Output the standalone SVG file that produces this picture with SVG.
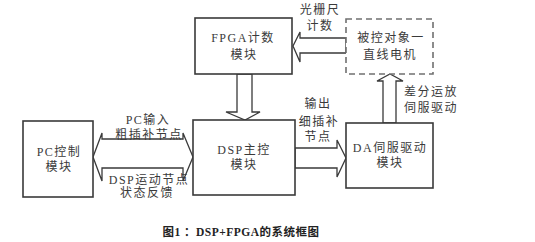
<svg xmlns="http://www.w3.org/2000/svg" width="535" height="242" viewBox="0 0 535 242">
<style>
.box{fill:#fff;stroke:#3a3a3a;stroke-width:1.6}
.dash{fill:#fff;stroke:#707070;stroke-width:1.6;stroke-dasharray:6 4}
.arr{fill:#fff;stroke:#3a3a3a;stroke-width:1.3;stroke-linejoin:miter}
text{font-family:"Liberation Serif","Noto Sans CJK SC",serif;font-size:12px;fill:#3a3a3a;text-anchor:middle;letter-spacing:1.5px}
.cap{font-size:11.5px;font-weight:bold;fill:#222;letter-spacing:0.5px}
</style>
<rect width="535" height="242" fill="#fff"/>
<g id="connectors">
<polygon class="arr" points="346,38 300,38 300,32 293,46 300,62 300,53 346,53"/>
<polygon class="arr" points="237,74 252,74 252,112 260,112 245,120 226,112 237,112"/>
<polygon class="arr" points="93,157 102,133 102,139 183,139 183,133 193,157 183,181 183,168 102,168 102,181"/>
<polygon class="arr" points="295,148 337,148 337,140 346,158 337,177 337,168 295,168"/>
<polygon class="arr" points="383,123 383,81 377,81 390,74 403,81 396,81 396,123"/>
<text x="320" y="14">光栅尺</text>
<text x="320" y="30">计数</text>
<text x="148" y="124">PC输入</text>
<text x="149" y="139">粗插补节点</text>
<text x="149" y="184">DSP运动节点</text>
<text x="147" y="197">状态反馈</text>
<text x="318" y="108">输出</text>
<text x="319" y="126">细插补</text>
<text x="318" y="141">节点</text>
<text x="431" y="96">差分运放</text>
<text x="431" y="112">伺服驱动</text>
</g>
<g id="fpga">
<rect class="box" x="195" y="18" width="97" height="56"/>
<text x="243" y="42">FPGA计数</text>
<text x="244" y="59">模块</text>
</g>
<g id="motor">
<rect class="dash" x="346" y="19" width="87" height="55"/>
<text x="391" y="42">被控对象一</text>
<text x="390" y="59">直线电机</text>
</g>
<g id="pc">
<rect class="box" x="23" y="121" width="70" height="76"/>
<text x="59" y="156">PC控制</text>
<text x="59" y="171">模块</text>
</g>
<g id="dsp">
<rect class="box" x="193" y="120" width="102" height="75"/>
<text x="244" y="154">DSP主控</text>
<text x="244" y="169">模块</text>
</g>
<g id="da">
<rect class="box" x="346" y="123" width="87" height="65"/>
<text x="390" y="152">DA伺服驱动</text>
<text x="390" y="167">模块</text>
</g>
<text class="cap" x="241" y="236">图1 ：DSP+FPGA的系统框图</text>
</svg>
